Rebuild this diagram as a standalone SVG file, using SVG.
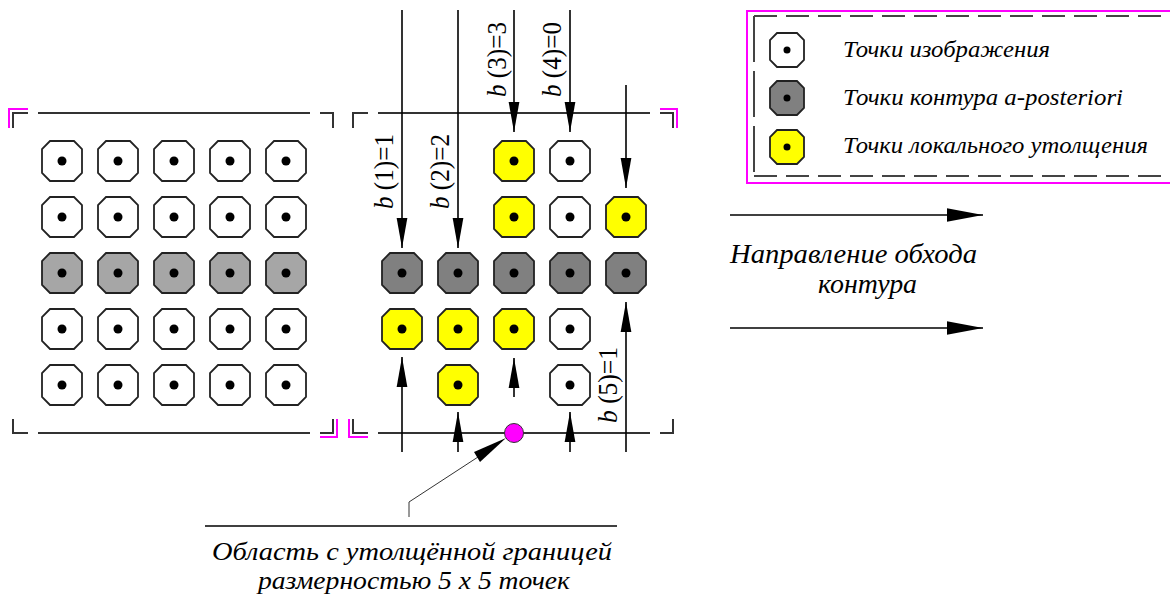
<svg xmlns="http://www.w3.org/2000/svg" width="1170" height="597" viewBox="0 0 1170 597">
<style>
.cell{stroke:#222;stroke-width:1.8;stroke-linejoin:miter}
.w{fill:#fff}.g{fill:#808080}.lg{fill:#a6a6a6}.y{fill:#ffff00}
.dot{fill:#000}
.fr{fill:none;stroke:#333;stroke-width:2}
.mg{fill:none;stroke:#ff00ff;stroke-width:2}
.ar{stroke:#000;stroke-width:1.6;fill:none}
.t{font-family:"Liberation Serif","Times New Roman",serif;font-style:italic;fill:#000}
.lb{font-family:"Liberation Serif","Times New Roman",serif;font-size:27px;fill:#000}
</style>
<defs>
<g id="c"><polygon points="-12,-20 12,-20 20,-12 20,12 12,20 -12,20 -20,12 -20,-12"/></g>
<g id="cs"><polygon points="-10,-17 10,-17 17,-10 17,10 10,17 -10,17 -17,10 -17,-10"/></g>
<marker id="ah" markerUnits="userSpaceOnUse" markerWidth="30" markerHeight="12" refX="28" refY="5" orient="auto" viewBox="0 0 28 10"><path d="M0,0 L28,5 L0,10 Z" fill="#000"/></marker>
<marker id="ah2" markerUnits="userSpaceOnUse" markerWidth="36" markerHeight="14" refX="35" refY="6.5" orient="auto" viewBox="0 0 35 13"><path d="M0,0 L35,6.5 L0,13 Z" fill="#000"/></marker>
</defs>

<g id="left-frame">
<path class="fr" d="M13,128 V113 H28 M38,113 H310 M320,113 H333 V128 M13,419 V433 H28 M38,433 H310 M320,433 H333 V419"/>
<path class="mg" d="M9,128 V109 H28 M320,437 H337 V419"/>
</g>
<g id="right-frame">
<path class="fr" d="M353,128 V113 H368 M378,113 H650 M660,113 H673 V128 M353,419 V433 H368 M378,433 H650 M660,433 H673 V419"/>
<path class="mg" d="M660,109 H677 V128 M349,419 V437 H368"/>
</g>

<g id="left-grid">
<g class="cell w">
<use href="#c" x="62" y="161"/><use href="#c" x="118" y="161"/><use href="#c" x="174" y="161"/><use href="#c" x="230" y="161"/><use href="#c" x="286" y="161"/>
<use href="#c" x="62" y="217"/><use href="#c" x="118" y="217"/><use href="#c" x="174" y="217"/><use href="#c" x="230" y="217"/><use href="#c" x="286" y="217"/>
<use href="#c" x="62" y="329"/><use href="#c" x="118" y="329"/><use href="#c" x="174" y="329"/><use href="#c" x="230" y="329"/><use href="#c" x="286" y="329"/>
<use href="#c" x="62" y="385"/><use href="#c" x="118" y="385"/><use href="#c" x="174" y="385"/><use href="#c" x="230" y="385"/><use href="#c" x="286" y="385"/>
</g>
<g class="cell lg">
<use href="#c" x="62" y="273"/><use href="#c" x="118" y="273"/><use href="#c" x="174" y="273"/><use href="#c" x="230" y="273"/><use href="#c" x="286" y="273"/>
</g>
<g class="dot">
<circle cx="62" cy="161" r="4.5"/><circle cx="118" cy="161" r="4.5"/><circle cx="174" cy="161" r="4.5"/><circle cx="230" cy="161" r="4.5"/><circle cx="286" cy="161" r="4.5"/>
<circle cx="62" cy="217" r="4.5"/><circle cx="118" cy="217" r="4.5"/><circle cx="174" cy="217" r="4.5"/><circle cx="230" cy="217" r="4.5"/><circle cx="286" cy="217" r="4.5"/>
<circle cx="62" cy="273" r="4.5"/><circle cx="118" cy="273" r="4.5"/><circle cx="174" cy="273" r="4.5"/><circle cx="230" cy="273" r="4.5"/><circle cx="286" cy="273" r="4.5"/>
<circle cx="62" cy="329" r="4.5"/><circle cx="118" cy="329" r="4.5"/><circle cx="174" cy="329" r="4.5"/><circle cx="230" cy="329" r="4.5"/><circle cx="286" cy="329" r="4.5"/>
<circle cx="62" cy="385" r="4.5"/><circle cx="118" cy="385" r="4.5"/><circle cx="174" cy="385" r="4.5"/><circle cx="230" cy="385" r="4.5"/><circle cx="286" cy="385" r="4.5"/>
</g>
</g>

<g id="right-grid">
<g class="cell y">
<use href="#c" x="514" y="161"/><use href="#c" x="514" y="217"/><use href="#c" x="626" y="217"/>
<use href="#c" x="402" y="329"/><use href="#c" x="458" y="329"/><use href="#c" x="514" y="329"/>
<use href="#c" x="458" y="385"/>
</g>
<g class="cell w">
<use href="#c" x="570" y="161"/><use href="#c" x="570" y="217"/><use href="#c" x="570" y="329"/><use href="#c" x="570" y="385"/>
</g>
<g class="cell g">
<use href="#c" x="402" y="273"/><use href="#c" x="458" y="273"/><use href="#c" x="514" y="273"/><use href="#c" x="570" y="273"/><use href="#c" x="626" y="273"/>
</g>
<g class="dot">
<circle cx="514" cy="161" r="4.5"/><circle cx="570" cy="161" r="4.5"/>
<circle cx="514" cy="217" r="4.5"/><circle cx="570" cy="217" r="4.5"/><circle cx="626" cy="217" r="4.5"/>
<circle cx="402" cy="273" r="4.5"/><circle cx="458" cy="273" r="4.5"/><circle cx="514" cy="273" r="4.5"/><circle cx="570" cy="273" r="4.5"/><circle cx="626" cy="273" r="4.5"/>
<circle cx="402" cy="329" r="4.5"/><circle cx="458" cy="329" r="4.5"/><circle cx="514" cy="329" r="4.5"/><circle cx="570" cy="329" r="4.5"/>
<circle cx="458" cy="385" r="4.5"/><circle cx="570" cy="385" r="4.5"/>
</g>
</g>

<g id="connectors">
<line class="ar" x1="402" y1="10" x2="402" y2="248" marker-end="url(#ah)"/>
<line class="ar" x1="458" y1="10" x2="458" y2="248" marker-end="url(#ah)"/>
<line class="ar" x1="514" y1="10" x2="514" y2="132" marker-end="url(#ah)"/>
<line class="ar" x1="570" y1="10" x2="570" y2="132" marker-end="url(#ah)"/>
<line class="ar" x1="626" y1="85" x2="626" y2="188" marker-end="url(#ah)"/>
<line class="ar" x1="402" y1="452" x2="402" y2="357" marker-end="url(#ah)"/>
<line class="ar" x1="458" y1="452" x2="458" y2="412" marker-end="url(#ah)"/>
<line class="ar" x1="514" y1="397" x2="514" y2="358" marker-end="url(#ah)"/>
<line class="ar" x1="570" y1="452" x2="570" y2="412" marker-end="url(#ah)"/>
<line class="ar" x1="626" y1="452" x2="626" y2="302" marker-end="url(#ah)"/>
<line class="ar" x1="730" y1="215" x2="983" y2="215" marker-end="url(#ah2)"/>
<line class="ar" x1="730" y1="328" x2="983" y2="328" marker-end="url(#ah2)"/>
<polyline points="409,517 409,502 478,457" fill="none" stroke="#333" stroke-width="1"/>
<polygon points="506,438 480,462 474,452" fill="#000"/>
<line x1="205" y1="526" x2="617" y2="526" stroke="#000" stroke-width="1.5"/>
</g>

<g id="labels">
<text class="lb" transform="translate(393,209) rotate(-90)" textLength="75" lengthAdjust="spacingAndGlyphs"><tspan font-style="italic">b</tspan> (1)=1</text>
<text class="lb" transform="translate(449,209) rotate(-90)" textLength="75" lengthAdjust="spacingAndGlyphs"><tspan font-style="italic">b</tspan> (2)=2</text>
<text class="lb" transform="translate(506,97) rotate(-90)" textLength="75" lengthAdjust="spacingAndGlyphs"><tspan font-style="italic">b</tspan> (3)=3</text>
<text class="lb" transform="translate(561,97) rotate(-90)" textLength="75" lengthAdjust="spacingAndGlyphs"><tspan font-style="italic">b</tspan> (4)=0</text>
<text class="lb" transform="translate(617,423) rotate(-90)" textLength="76" lengthAdjust="spacingAndGlyphs"><tspan font-style="italic">b</tspan> (5)=1</text>
</g>

<g id="magenta-point">
<circle cx="514" cy="433" r="9.5" fill="#ff00ff" stroke="#333" stroke-width="1"/>
</g>

<g id="legend">
<rect x="747" y="11" width="440" height="172" fill="none" stroke="#ff00ff" stroke-width="2"/>
<path d="M754,16 H1175 M754,176 H1175" fill="none" stroke="#444" stroke-width="2" stroke-dasharray="23 9"/>
<path d="M754,16 V176" fill="none" stroke="#444" stroke-width="2" stroke-dasharray="46 9"/>
<use href="#cs" x="787" y="50" class="cell w"/>
<use href="#cs" x="787" y="98" class="cell g"/>
<use href="#cs" x="787" y="147" class="cell y"/>
<circle cx="787" cy="50" r="3.5" class="dot"/>
<circle cx="787" cy="98" r="3.5" class="dot"/>
<circle cx="787" cy="147" r="3.5" class="dot"/>
<text class="t" x="843" y="57" font-size="23" textLength="207" lengthAdjust="spacingAndGlyphs">Точки изображения</text>
<text class="t" x="843" y="105" font-size="23" textLength="280" lengthAdjust="spacingAndGlyphs">Точки контура a-posteriori</text>
<text class="t" x="843" y="153" font-size="23" textLength="305" lengthAdjust="spacingAndGlyphs">Точки локального утолщения</text>
</g>

<g id="direction-text">
<text class="t" x="730" y="263" font-size="27" textLength="247" lengthAdjust="spacingAndGlyphs">Направление обхода</text>
<text class="t" x="818" y="293" font-size="27" textLength="99" lengthAdjust="spacingAndGlyphs">контура</text>
</g>

<g id="caption">
<text class="t" x="212" y="560" font-size="26" textLength="400" lengthAdjust="spacingAndGlyphs">Область с утолщённой границей</text>
<text class="t" x="258" y="589" font-size="26" textLength="312" lengthAdjust="spacingAndGlyphs">размерностью 5 x 5 точек</text>
</g>
</svg>
